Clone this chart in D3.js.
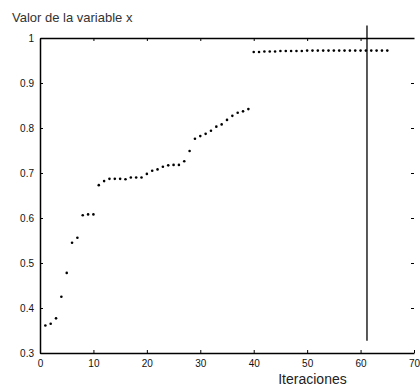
<!DOCTYPE html>
<html>
<head>
<meta charset="utf-8">
<script src="https://cdn.jsdelivr.net/npm/d3@7"></script>
<style>
  body { margin: 0; background: #fff; }
  svg { font-family: "Liberation Sans", Arial, sans-serif; }
</style>
</head>
<body>
<script>
// valores
var iteraciones = d3.range(1, 66)
var valores = [
  0.361, 0.365, 0.377, 0.425, 0.478, 0.545, 0.556, 0.606, 0.608, 0.608,
  0.673, 0.682, 0.687, 0.687, 0.687, 0.686, 0.690, 0.690, 0.690, 0.698,
  0.705, 0.708, 0.714, 0.717, 0.718, 0.718, 0.726, 0.749, 0.776, 0.782,
  0.787, 0.794, 0.803, 0.808, 0.818, 0.827, 0.834, 0.837, 0.842,
  0.969, 0.969, 0.970, 0.970, 0.970, 0.971, 0.971, 0.971, 0.971, 0.971,
  0.972, 0.972, 0.972, 0.972, 0.972, 0.972, 0.972, 0.972, 0.972, 0.972,
  0.972, 0.972, 0.972, 0.972, 0.972, 0.972
]
var xTicks = [0, 10, 20, 30, 40, 50, 60, 70]
var yTicks = [0.3, 0.4, 0.5, 0.6, 0.7, 0.8, 0.9, 1]
var marcaX = [61.2, 61.2]
var marcaY = [1.028, 0.327]

var svg = d3.select("body")
  .append("svg")
  .attr("width", 420)
  .attr("height", 387)

var x = d3.scaleLinear().domain([0, 70]).range([40, 414])
var y = d3.scaleLinear().domain([0.3, 1]).range([353, 38])

var fmtX = d3.format("d")
var fmtY = function (d) { return d === 1 ? "1" : d3.format(".1f")(d) }

// ejes estilo matlab, marcas hacia dentro
svg.append("g")
  .attr("transform", "translate(0," + y(0.3) + ")")
  .call(d3.axisBottom(x).tickValues(xTicks).tickSizeInner(-3).tickSizeOuter(0).tickPadding(7).tickFormat(fmtX))

svg.append("g")
  .attr("transform", "translate(0," + y(1) + ")")
  .call(d3.axisTop(x).tickValues(xTicks.slice(1, -1)).tickSizeInner(-3).tickSizeOuter(0).tickFormat(""))

svg.append("g")
  .attr("transform", "translate(" + x(0) + ",0)")
  .call(d3.axisLeft(y).tickValues(yTicks).tickSizeInner(-3).tickSizeOuter(0).tickPadding(6).tickFormat(fmtY))

var right = svg.append("g")
  .attr("transform", "translate(" + x(70) + ",0)")
  .call(d3.axisRight(y).tickValues(yTicks.slice(1, -1)).tickSizeInner(-3).tickSizeOuter(0).tickFormat(""))
right.select(".domain").remove()

svg.selectAll(".domain").attr("stroke-width", 1.5)
svg.selectAll(".tick text").attr("font-size", 10).attr("fill", "#111")

// puntos
svg.selectAll("circle.p")
  .data(valores)
  .enter()
  .append("circle")
  .attr("class", "p")
  .attr("cx", function (d, i) { return x(iteraciones[i]) })
  .attr("cy", function (d) { return y(d) })
  .attr("r", 1.3)
  .attr("fill", "#000")

// linea vertical
svg.append("line")
  .attr("x1", x(marcaX[0])).attr("x2", x(marcaX[1]))
  .attr("y1", y(marcaY[0])).attr("y2", y(marcaY[1]))
  .attr("stroke", "#000")
  .attr("stroke-width", 1.3)

// textos
svg.append("text")
  .attr("x", 12).attr("y", 22)
  .attr("font-size", 13)
  .attr("fill", "#333")
  .text("Valor de la variable x")

svg.append("text")
  .attr("x", x(51)).attr("y", 384)
  .attr("text-anchor", "middle")
  .attr("font-size", 14)
  .attr("fill", "#222")
  .text("Iteraciones")
</script>
</body>
</html>
